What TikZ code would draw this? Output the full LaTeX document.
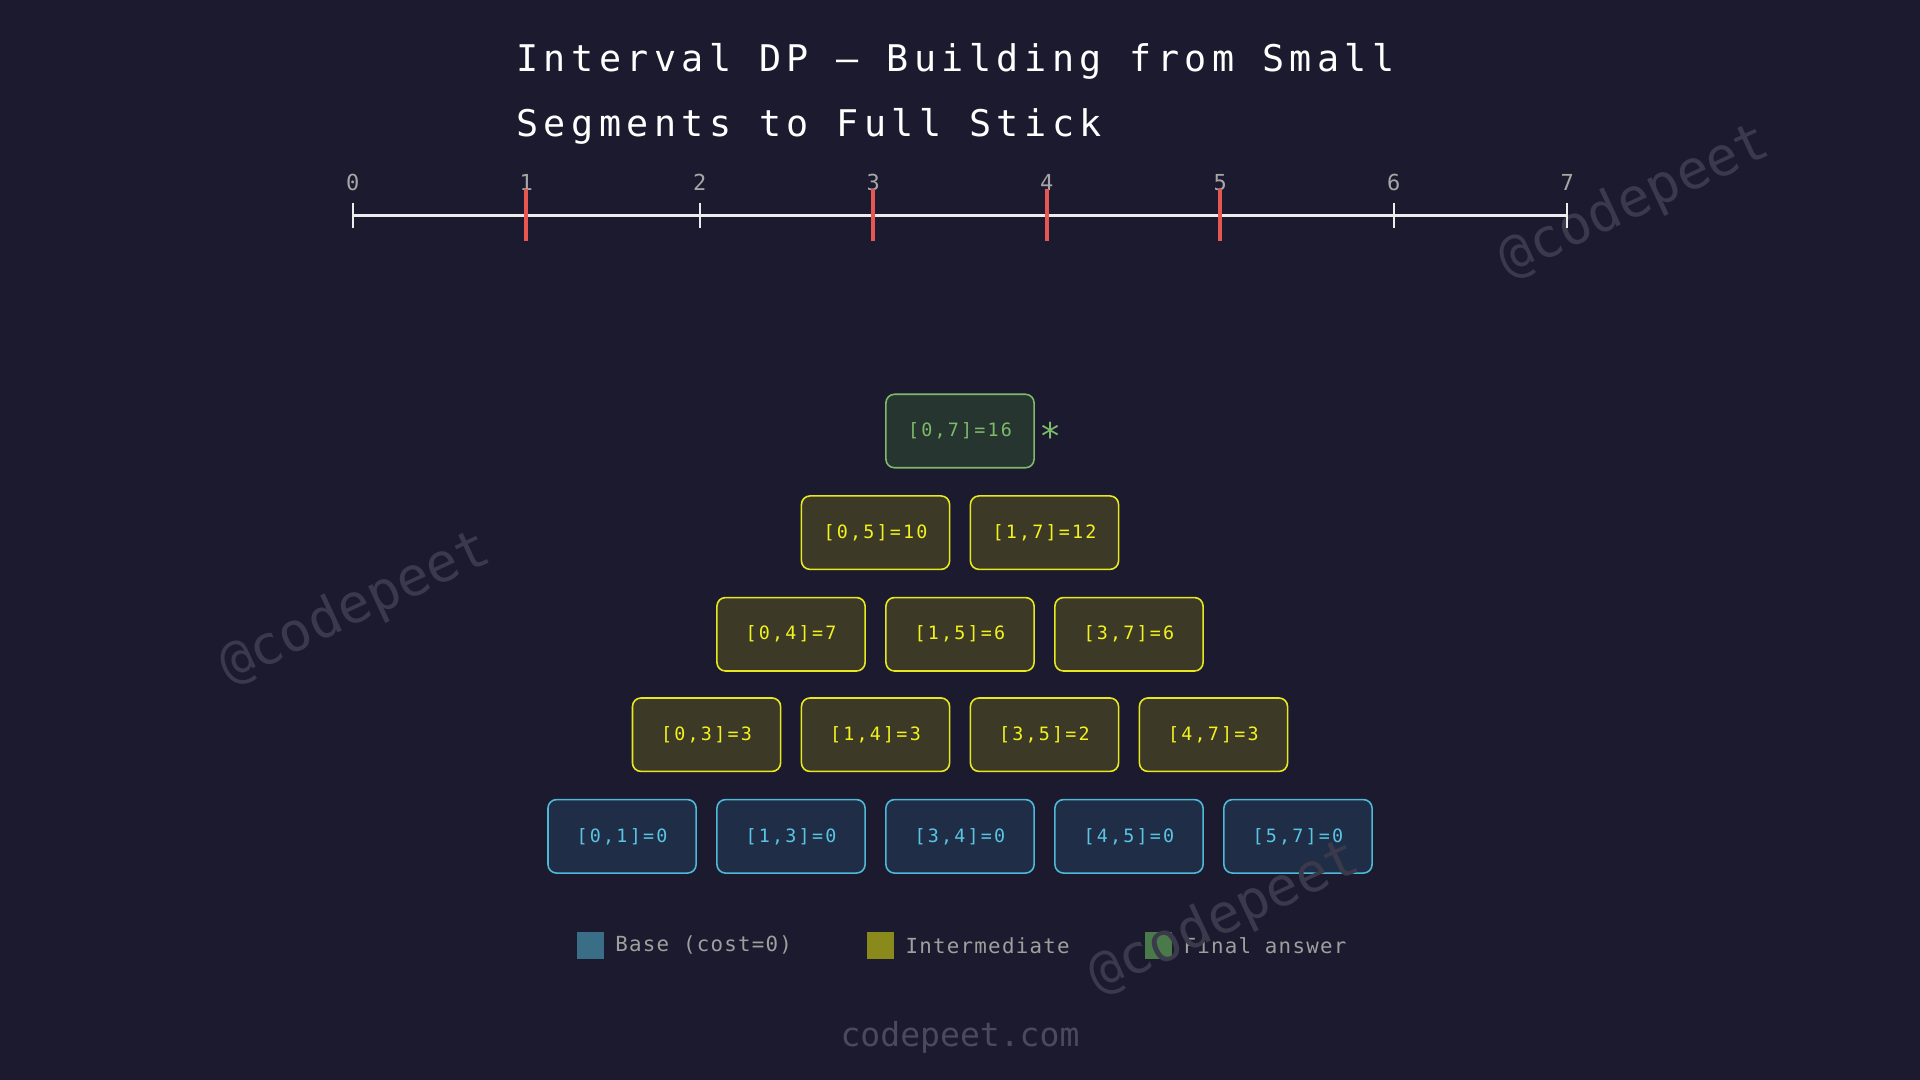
\documentclass[tikz,border=0pt]{standalone}
\usepackage{fontspec}
\setmonofont{DejaVu Sans Mono}
\newfontfamily\titlefont[LetterSpace=15]{DejaVu Sans Mono}
\newfontfamily\boxfont[LetterSpace=12]{DejaVu Sans Mono}
\newfontfamily\legfont[LetterSpace=6]{DejaVu Sans Mono}
\newfontfamily\plainmono{DejaVu Sans Mono}
\definecolor{bg}{HTML}{1B1A2E}
\definecolor{bfill}{HTML}{1F2E46}\definecolor{bline}{HTML}{4FB8D8}\definecolor{btext}{HTML}{5AC4E4}
\definecolor{ifill}{HTML}{3C3A26}\definecolor{iline}{HTML}{E8E820}\definecolor{itext}{HTML}{F2F21E}
\definecolor{ffill}{HTML}{263530}\definecolor{fline}{HTML}{7DBB6A}\definecolor{ftext}{HTML}{7DBB6A}
\definecolor{cut}{HTML}{E8574F}\definecolor{wm}{HTML}{3A3A4C}
\definecolor{lgb}{HTML}{3A6E86}\definecolor{lgi}{HTML}{8A8A1C}\definecolor{lgf}{HTML}{4A7A4A}
\definecolor{foot}{HTML}{4A4A5C}
\tikzset{
 cell/.style={rounded corners=7pt,line width=1.3pt,minimum width=121pt,minimum height=60pt,inner sep=0pt,font=\boxfont\fontsize{15}{15}\selectfont},
 basec/.style={cell,fill=bfill,draw=bline,text=btext},
 midc/.style={cell,fill=ifill,draw=iline,text=itext},
 finc/.style={cell,fill=ffill,draw=fline,text=ftext},
 lab/.style={text=gray!70!white,font=\plainmono\fontsize{18}{18}\selectfont},
 wmark/.style={text=wm,rotate=25,font=\plainmono\fontsize{44}{44}\selectfont},
 legsq/.style={draw=none,minimum size=22pt,inner sep=0pt},
 legt/.style={anchor=west,text=gray!75!white,font=\legfont\fontsize{17}{17}\selectfont},
}
\begin{document}
\begin{tikzpicture}[x=1pt,y=-1pt]
\fill[bg] (0,0) rectangle (1568,882);
\useasboundingbox (0,0) rectangle (1568,882);
\node[wmark] (w1) at (290,497) {@codepeet};
\node[wmark] (w2) at (1335,165) {@codepeet};
\node[anchor=west,text=white,font=\titlefont\fontsize{30}{30}\selectfont] (t1) at (418,50) {Interval DP — Building from Small};
\node[anchor=west,text=white,font=\titlefont\fontsize{30}{30}\selectfont] (t2) at (418,103) {Segments to Full Stick};
\coordinate (a0) at (288,176); \coordinate (a7) at (1280,176);
\draw[white!85!gray,line width=2pt] (a0) -- (a7);
\foreach \i in {0,...,7}{
  \coordinate (k\i) at ({288+\i*141.714},176);
  \draw[white!85!gray,line width=1.5pt] ([yshift=-10pt]k\i) -- ([yshift=10pt]k\i);
  \node[lab] (l\i) at ({288+\i*141.714},149) {\i};
}
\foreach \i in {1,3,4,5}{\draw[cut,line width=3pt] ([yshift=-21pt]k\i) -- ([yshift=22pt]k\i);}
\node[finc] (n07) at (784,352) {[0,7]=16};
\node[text=ftext,font=\plainmono\fontsize{30}{30}\selectfont,anchor=west] (star) at ([yshift=-4pt]n07.east) {*};
\node[midc] (n05) at (715,435) {[0,5]=10};
\node[midc] (n17) at (853,435) {[1,7]=12};
\node[midc] (n04) at (646,518) {[0,4]=7};
\node[midc] (n15) at (784,518) {[1,5]=6};
\node[midc] (n37) at (922,518) {[3,7]=6};
\node[midc] (n03) at (577,600) {[0,3]=3};
\node[midc] (n14) at (715,600) {[1,4]=3};
\node[midc] (n35) at (853,600) {[3,5]=2};
\node[midc] (n47) at (991,600) {[4,7]=3};
\node[basec] (n01) at (508,683) {[0,1]=0};
\node[basec] (n13) at (646,683) {[1,3]=0};
\node[basec] (n34) at (784,683) {[3,4]=0};
\node[basec] (n45) at (922,683) {[4,5]=0};
\node[basec] (n57) at (1060,683) {[5,7]=0};
\node[legsq,fill=lgb] (s1) at (482,772) {};
\node[legt] (g1) at (499,772) {Base (cost=0)};
\node[legsq,fill=lgi] (s2) at (719,772) {};
\node[legt] (g2) at (736,772) {Intermediate};
\node[legsq,fill=lgf] (s3) at (946,772) {};
\node[legt] (g3) at (963,772) {Final answer};
\node[wmark] (w3) at (1000,750) {@codepeet};
\node[text=foot,font=\plainmono\fontsize{27}{27}\selectfont] (ft) at (784,847) {codepeet.com};
\end{tikzpicture}
\end{document}
